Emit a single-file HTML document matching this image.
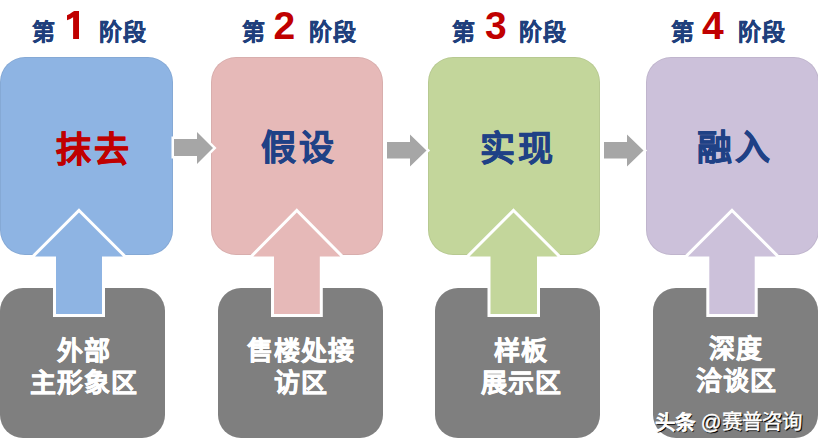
<!DOCTYPE html>
<html lang="zh-CN">
<head>
<meta charset="utf-8">
<style>
html,body{margin:0;padding:0;background:#fff;}
body{width:818px;height:445px;overflow:hidden;position:relative;font-family:"Liberation Sans",sans-serif;font-weight:bold;}
.box{position:absolute;top:57px;height:197.5px;border-radius:25px;box-shadow:inset 0 0 0 1px rgba(0,0,0,.06);}
.g{position:absolute;top:288px;height:149.5px;border-radius:23px;background:#7f7f7f;}
.t{position:absolute;white-space:nowrap;line-height:1;}
.hd{position:absolute;top:20.5px;white-space:nowrap;color:#1f3f7c;font-size:23px;line-height:1;letter-spacing:1px;-webkit-text-stroke:0.4px #1f3f7c;}
.hd b{position:absolute;top:-14.5px;letter-spacing:0;line-height:1;color:#c00000;font-size:39px;-webkit-text-stroke:0;font-family:"Liberation Sans",sans-serif;}
.hd span{position:absolute;}
.main{position:absolute;font-size:35px;line-height:1;white-space:nowrap;color:#1f4186;letter-spacing:3px;-webkit-text-stroke:0.6px currentColor;}
.gt{position:absolute;font-size:26px;line-height:32px;color:#fff;text-align:center;white-space:nowrap;letter-spacing:1px;-webkit-text-stroke:0.5px #fff;}
svg{position:absolute;left:0;top:0;}
</style>
</head>
<body>
<div class="box" style="left:0;width:173px;background:#8eb4e3"></div>
<div class="box" style="left:210.5px;width:172.5px;background:#e6b9b8"></div>
<div class="box" style="left:428px;width:172px;background:#c3d69b"></div>
<div class="box" style="left:645.5px;width:173px;background:#ccc1da"></div>

<div class="g" style="left:0;width:165px"></div>
<div class="g" style="left:218px;width:165px"></div>
<div class="g" style="left:435px;width:165px"></div>
<div class="g" style="left:653px;width:165px"></div>

<svg width="818" height="445" viewBox="0 0 818 445">
<g stroke="#fff" stroke-width="6" paint-order="stroke" stroke-linejoin="miter">
<polygon fill="#8eb4e3" points="79,212.5 123,256.5 102,256.5 102,314 56,314 56,256.5 35,256.5"/>
<polygon fill="#e6b9b8" points="296.8,212.5 340.3,256.5 319.8,256.5 319.8,314 274,314 274,256.5 253.3,256.5"/>
<polygon fill="#c3d69b" points="513.5,212.5 557.5,256.5 537,256.5 537,314 490.5,314 490.5,256.5 469.5,256.5"/>
<polygon fill="#ccc1da" points="732,212.5 776,256.5 754.7,256.5 754.7,314 709.3,314 709.3,256.5 688,256.5"/>
</g>
<g stroke="#fff" stroke-width="5" paint-order="stroke" stroke-linejoin="miter" fill="#a6a6a6">
<polygon points="174,139 197,139 197,132 213,148 197,164 197,156 174,156"/>
<polygon points="387,142 410,142 410,134.5 426.5,150.5 410,166.5 410,158.5 387,158.5"/>
<polygon points="604,142 627,142 627,134.5 643.5,150.5 627,166.5 627,158.5 604,158.5"/>
</g>
<path fill="#c00000" d="M79 10.9 L79 38.9 L73.1 38.9 L73.1 17.2 C71.3 18.6 69.3 19.6 67 20.2 L67 15.2 C68.8 14.6 70.6 13.6 72.1 12.3 C72.9 11.6 73.6 11.1 74.3 10.9 Z"/>
</svg>

<div class="hd" style="left:32px"><span style="left:0">第</span><span style="left:67px">阶段</span></div>
<div class="hd" style="left:242px"><span style="left:0">第</span><b style="left:31.5px">2</b><span style="left:67px">阶段</span></div>
<div class="hd" style="left:452px"><span style="left:0">第</span><b style="left:33px">3</b><span style="left:67px">阶段</span></div>
<div class="hd" style="left:671px"><span style="left:0">第</span><b style="left:31px">4</b><span style="left:67px">阶段</span></div>

<div class="main" style="left:55.5px;top:131.9px;color:#c00000">抹去</div>
<div class="main" style="left:260.5px;top:129.9px">假设</div>
<div class="main" style="left:479.7px;top:130.5px">实现</div>
<div class="main" style="left:697px;top:130.4px">融入</div>

<div class="gt" style="left:1.5px;width:164px;top:334.5px">外部<br>主形象区</div>
<div class="gt" style="left:218px;width:165px;top:334.5px">售楼处接<br>访区</div>
<div class="gt" style="left:438.5px;width:165px;top:334.5px">样板<br>展示区</div>
<div class="gt" style="left:653.5px;width:165px;top:332.5px">深度<br>洽谈区</div>

<div class="t" style="left:655px;top:411.5px;font-size:20.5px;color:#fff;font-weight:normal;-webkit-text-stroke:0.4px #fff;text-shadow:1px 1px 1px #000,1px 1px 0 #111"><span style="-webkit-text-stroke:1.1px #fff;position:relative;top:1px">头条</span> @赛普咨询</div>
</body>
</html>
